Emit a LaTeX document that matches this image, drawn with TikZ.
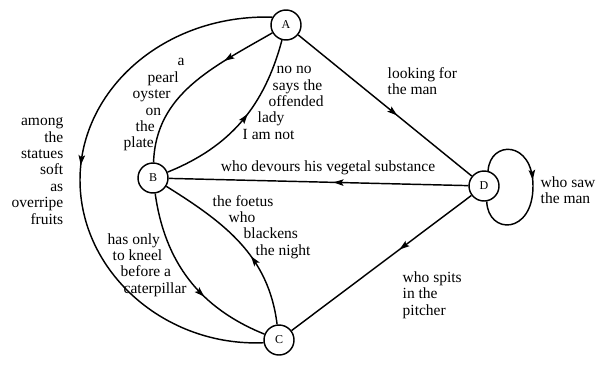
\documentclass[tikz,border=0pt]{standalone}
\usepackage{fontspec}
\setmainfont{Liberation Serif}
\usetikzlibrary{arrows.meta, decorations.markings}

\begin{document}
\begin{tikzpicture}[x=1pt, y=-1pt, line width=1.45pt,
        state/.style={circle, draw, minimum size=30pt, inner sep=0pt, font=\fontsize{12}{14}\selectfont},
        lbl/.style={inner sep=0pt, font=\fontsize{15.5}{16.4}\selectfont},
        midarrow/.style={postaction={decorate}, decoration={markings,
            mark=at position #1 with {\arrow{Stealth[length=10pt, width=6.5pt, inset=2pt]}}}}]
        \useasboundingbox (0,0) rectangle (596,364);
        \foreach \n/\x/\y in {A/286/25, B/153/178, C/279/340, D/484/186}
            \node[state] (\n) at (\x,\y) {\n};
        \coordinate (west) at (80,180);
        \coordinate (loopright) at (533,186);
        % connectors
        \draw[midarrow=0.48] (A.150) .. controls (165,14) and (80,89) .. (west)
            .. controls (80,272) and (165,347) .. (C.190);
        \draw[midarrow=0.3] (A) to[out=210, in=88] (B);
        \draw[midarrow=0.55] (B) to[out=22, in=255] (A);
        \draw[midarrow=0.62] (B) to[out=-82, in=158] (C);
        \draw[midarrow=0.4] (C) to[out=97, in=-32] (B);
        \draw[midarrow=0.57] (A) -- (D);
        \draw[midarrow=0.45] (D) -- (B);
        \draw[midarrow=0.4] (D) -- (C);
        \draw[midarrow=0.45] (D.75) .. controls (490,140) and (533,140) .. (loopright)
            .. controls (533,235) and (488,235) .. (D.-80);
        % labels
        \node[lbl, anchor=east, align=right] (among) at (64,171) {among\\the\\statues\\soft\\as\\overripe\\fruits};
        \node[lbl, anchor=west, align=left] (pearl) at (123,105) {\hspace*{54pt}a\\\hspace*{24pt}pearl\\\hspace*{9pt}oyster\\\hspace*{22pt}on\\\hspace*{12pt}the\\plate};
        \node[lbl, anchor=west, align=left] (lady) at (242,103) {\hspace*{34pt}no no\\\hspace*{30pt}says the\\\hspace*{26pt}offended\\\hspace*{15pt}lady\\I am not};
        \node[lbl, anchor=west, align=left] (look) at (387,81) {looking for\\the man};
        \node[lbl] (devour) at (328,168) {who devours his vegetal substance};
        \node[lbl, anchor=west, align=left] (saw) at (540,190) {who saw\\the man};
        \node[lbl, anchor=west, align=left] (foetus) at (212,227) {the foetus\\\hspace*{16pt}who\\\hspace*{31pt}blackens\\\hspace*{43pt}the night};
        \node[lbl, anchor=west, align=left] (kneel) at (107,265) {has only\\\hspace*{5pt}to kneel\\\hspace*{13pt}before a\\\hspace*{16pt}caterpillar};
        \node[lbl, anchor=west, align=left] (spits) at (402,295) {who spits\\in the\\pitcher};
    \end{tikzpicture}
\end{document}
